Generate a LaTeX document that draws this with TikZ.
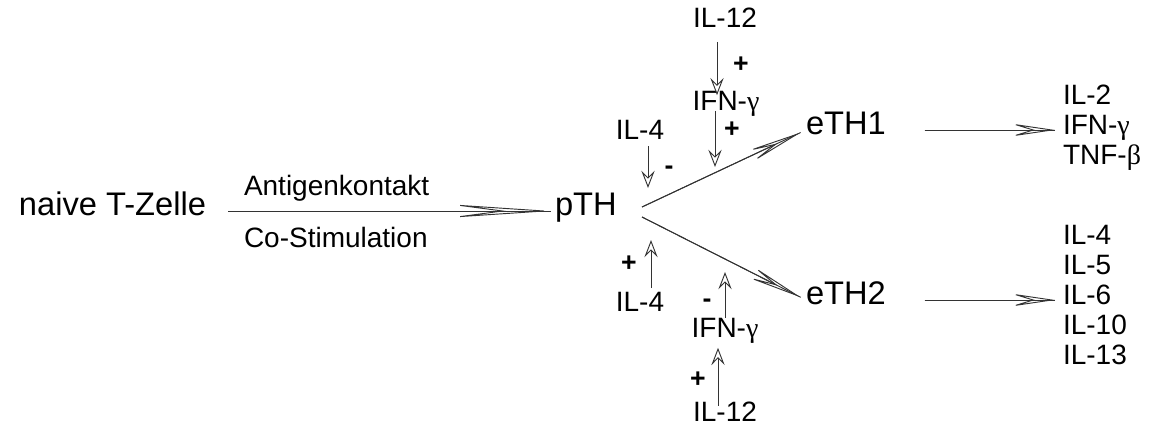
\documentclass[tikz,border=0pt]{standalone}
\usepackage{fontspec}
\setmainfont{Liberation Sans}
\newfontfamily\grk{Liberation Serif}
\usetikzlibrary{arrows.meta}
\begin{document}
\begin{tikzpicture}[x=0.75pt,y=-0.75pt,
  lbl/.style={inner sep=0pt, outer sep=0pt, text height=0.72em, text depth=0pt},
  cell/.style={lbl, font=\fontsize{24.5}{28}\selectfont},
  cyto/.style={lbl, font=\fontsize{21}{24}\selectfont},
  sgn/.style={lbl, font=\fontsize{20}{22}\selectfont\bfseries},
  conn/.style={draw=black!80, line width=0.7pt},
  bigarr/.style={conn, -{Stealth[open, length=79pt, width=10.5pt, inset=40pt]}},
  brarr/.style={conn, -{Stealth[open, length=43.5pt, width=9.5pt, inset=21pt]}},
  outarr/.style={conn, -{Stealth[open, length=34pt, width=10pt, inset=16.5pt]}},
  regarr/.style={conn, -{Stealth[open, length=13pt, width=10pt, inset=5pt]}},
]
\useasboundingbox (0,0) rectangle (1152,430);

% cell stages
\node[cell] (naive) at (112.5,211) {naive T-Zelle};
\node[cell, anchor=west] (pth) at (555,211) {pTH};
\node[cell, anchor=west] (eth1) at (806,130) {eTH1};
\node[cell, anchor=west] (eth2) at (806,300) {eTH2};

% activation conditions
\node[cyto, anchor=west] (antig) at (244,191) {Antigenkontakt};
\node[cyto, anchor=west] (costim) at (244,243) {Co-Stimulation};

% activation: shaft drawn through the long open head
\draw[conn, shorten <=16.5pt, shorten >=3pt] (naive.east) -- (pth.west);
\draw[bigarr, shorten <=16.5pt, shorten >=3pt] (naive.east) -- (pth.west);

% branching into the two effector types
\coordinate (b1) at (642,207);
\coordinate (b2) at (642,217);
\draw[conn, shorten >=4.5pt] (b1) -- (eth1.west);
\draw[brarr, shorten >=4.5pt] (b1) -- (eth1.west);
\draw[conn, shorten >=4.5pt] (b2) -- (eth2.west);
\draw[brarr, shorten >=4.5pt] (b2) -- (eth2.west);

% regulating cytokines, upper side
\node[cyto] (il12a) at (725,22.5) {IL-12};
\node[cyto] (ifna) at (726,106) {IFN-{\grk γ}};
\node[cyto] (il4a) at (640,135) {IL-4};
\node[sgn] (sa1) at (741,68) {+};
\node[sgn] (sa2) at (732,133) {+};
\node[sgn] (sa3) at (669,170) {-};
\coordinate (ea2) at (715,167);
\coordinate (ea3) at (648,188);
\draw[regarr, shorten <=10.9pt, shorten >=4.5pt] (il12a.south -| 717,0) -- (ifna.north -| 717,0);
\draw[regarr, shorten <=0pt] (ifna.south -| ea2) -- (ea2);
\draw[regarr, shorten <=5pt] (il4a.south -| ea3) -- (ea3);

% regulating cytokines, lower side
\node[cyto] (il4b) at (640,307) {IL-4};
\node[cyto] (ifnb) at (725,333) {IFN-{\grk γ}};
\node[cyto] (il12b) at (725,417) {IL-12};
\node[sgn] (sb1) at (629,267) {+};
\node[sgn] (sb2) at (707,303) {-};
\node[sgn] (sb3) at (698,383) {+};
\coordinate (eb1) at (651,240);
\coordinate (eb2) at (725,272);
\draw[regarr, shorten <=10.5pt] (il4b.north -| eb1) -- (eb1);
\draw[regarr, shorten <=8pt] (ifnb.north -| eb2) -- (eb2);
\draw[regarr, shorten <=5pt, shorten >=7.5pt] (il12b.north -| 718,0) -- (ifnb.south -| 718,0);

% products of eTH1
\node[cyto, anchor=west] (o1a) at (1063,100) {IL-2};
\node[cyto, anchor=west] (o1b) at (1063,130) {IFN-{\grk γ}};
\node[cyto, anchor=west] (o1c) at (1063,160) {TNF-{\grk β}};
\draw[conn, shorten <=29pt, shorten >=6pt] (eth1.east) -- (o1b.west);
\draw[outarr, shorten <=29pt, shorten >=6pt] (eth1.east) -- (o1b.west);

% products of eTH2
\node[cyto, anchor=west] (o2a) at (1063,240) {IL-4};
\node[cyto, anchor=west] (o2b) at (1063,270) {IL-5};
\node[cyto, anchor=west] (o2c) at (1063,300) {IL-6};
\node[cyto, anchor=west] (o2d) at (1063,330) {IL-10};
\node[cyto, anchor=west] (o2e) at (1063,360) {IL-13};
\draw[conn, shorten <=29pt, shorten >=6pt] (eth2.east) -- (o2c.west);
\draw[outarr, shorten <=29pt, shorten >=6pt] (eth2.east) -- (o2c.west);
\end{tikzpicture}
\end{document}
